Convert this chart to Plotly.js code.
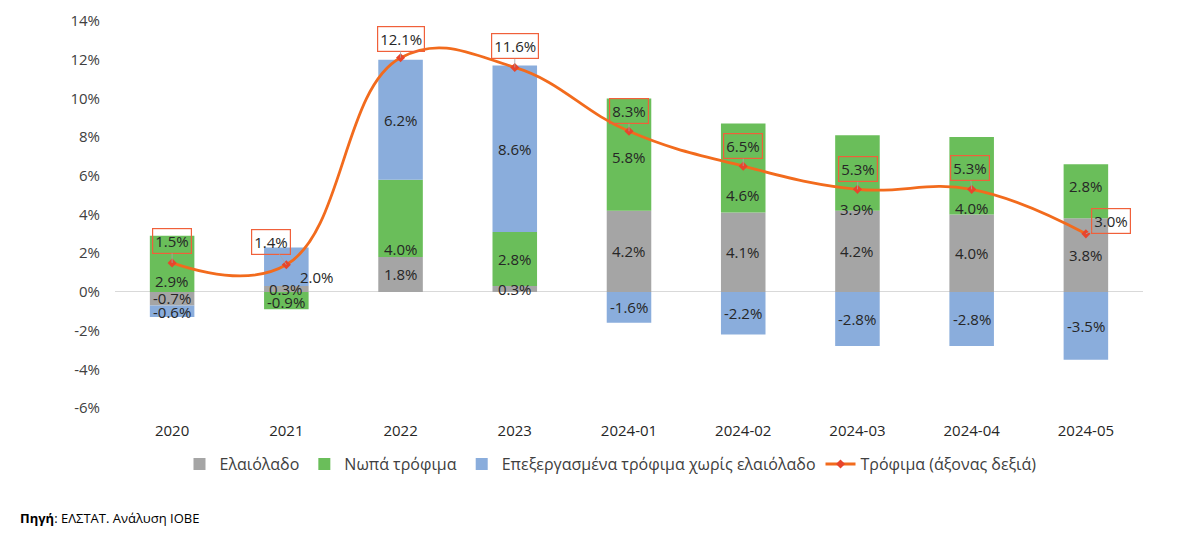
<!DOCTYPE html>
<html>
<head>
<meta charset="utf-8">
<script src="https://cdn.plot.ly/plotly-3.0.1.min.js"></script>
<style>
  html, body { margin: 0; padding: 0; background: #ffffff; }
  #chart { width: 1200px; height: 537px; }
</style>
</head>
<body>
<div id="chart"></div>
<script>
// ---- data ----
const categories = ["2020", "2021", "2022", "2023", "2024-01", "2024-02", "2024-03", "2024-04", "2024-05"];
const oliveOil   = [-0.7, 0.3, 1.8, 0.3, 4.2, 4.1, 4.2, 4.0, 3.8];   // Ελαιόλαδο
const freshFood  = [2.9, -0.9, 4.0, 2.8, 5.8, 4.6, 3.9, 4.0, 2.8];   // Νωπά τρόφιμα
const processed  = [-0.6, 2.0, 6.2, 8.6, -1.6, -2.2, -2.8, -2.8, -3.5]; // Επεξεργασμένα τρόφιμα χωρίς ελαιόλαδο
const foodTotal  = [1.5, 1.4, 12.1, 11.6, 8.3, 6.5, 5.3, 5.3, 3.0];  // Τρόφιμα (άξονας δεξιά)
const yTicks     = [-6, -4, -2, 0, 2, 4, 6, 8, 10, 12, 14];

// ---- styling ----
const FONT = "'Open Sans', 'Noto Sans', sans-serif";
const TEXT_DARK = "#262626";

const barSeries = [
  { name: "Ελαιόλαδο", values: oliveOil, color: "#A5A5A5" },
  { name: "Νωπά τρόφιμα", values: freshFood, color: "#6ABE5A" },
  { name: "Επεξεργασμένα τρόφιμα χωρίς ελαιόλαδο", values: processed, color: "#8AADDC" }
];

const traces = barSeries.map(s => ({
  type: "bar",
  name: s.name,
  x: categories,
  y: s.values,
  marker: { color: s.color },
  hoverinfo: "skip"
}));

traces.push({
  type: "scatter",
  mode: "lines+markers",
  name: "Τρόφιμα (άξονας δεξιά)",
  x: categories,
  y: foodTotal,
  line: { color: "#F26B1D", width: 2.8, shape: "spline", smoothing: 1.2 },
  marker: { symbol: "diamond", size: 7, color: "#E8452C" },
  cliponaxis: false,
  hoverinfo: "skip"
});

// pixel nudges of segment labels (label placement only, as in the reference)
const segLabelShift = [
  [[0,1],[0,0],[0,0],[0,0],[0,0],[0,0],[0,0],[0,0],[0,0]],
  [[0,-17],[0,-1],[0,-31],[0,0],[0,-2],[0,-27],[0,-36],[0,-32],[0,5]],
  [[0,-1],[31,-10],[0,0],[0,0],[0,0],[0,0],[0,0],[0,0],[0,0]]
];

const annotations = [];
// segment labels placed at the middle of each stacked segment
const posBase = categories.map(() => 0);
const negBase = categories.map(() => 0);
barSeries.forEach((s, k) => {
  s.values.forEach((v, i) => {
    let mid;
    if (v >= 0) { mid = posBase[i] + v / 2; posBase[i] += v; }
    else { mid = negBase[i] + v / 2; negBase[i] += v; }
    annotations.push({
      x: i, y: mid, xref: "x", yref: "y",
      text: v.toFixed(1) + "%", showarrow: false,
      xshift: segLabelShift[k][i][0], yshift: segLabelShift[k][i][1],
      font: { family: FONT, size: 15, color: TEXT_DARK }
    });
  });
});

// boxed total labels
const labelOffsets = [[0, -22], [-15, -23], [0, -19], [0, -21], [0, -20], [0, -20], [1, -20], [-2, -21], [25, -13]];
foodTotal.forEach((v, i) => {
  annotations.push({
    x: i, y: v, xref: "x", yref: "y",
    text: v.toFixed(1) + "%",
    showarrow: true, arrowhead: 0, arrowwidth: 0.8, arrowcolor: "#A6A6A6",
    ax: labelOffsets[i][0], ay: labelOffsets[i][1],
    bordercolor: "#F0603A", borderwidth: 1.2, borderpad: 2,
    font: { family: FONT, size: 15, color: TEXT_DARK }
  });
});

annotations.push({
  xref: "paper", yref: "paper", x: -0.094, y: -0.284,
  xanchor: "left", yanchor: "middle", showarrow: false,
  text: "<b>Πηγή</b>: ΕΛΣΤΑΤ. Ανάλυση ΙΟΒΕ",
  font: { family: FONT, size: 13, color: "#000000" }
});

const layout = {
  width: 1200, height: 537,
  margin: { l: 115, r: 57, t: 21, b: 129 },
  paper_bgcolor: "#ffffff", plot_bgcolor: "#ffffff",
  barmode: "relative",
  bargap: 0.61,
  font: { family: FONT, size: 15, color: TEXT_DARK },
  showlegend: true,
  legend: {
    orientation: "h", x: 0.482, xanchor: "center", y: -0.145, yanchor: "middle",
    font: { family: FONT, size: 16, color: "#404040" },
    itemwidth: 30, tracegroupgap: 0
  },
  xaxis: {
    type: "category",
    range: [-0.5, categories.length - 0.5],
    autorange: false,
    showline: false, showgrid: false, zeroline: false,
    ticks: "", ticklabelstandoff: 12,
    tickfont: { family: FONT, size: 15, color: TEXT_DARK }
  },
  yaxis: {
    range: [-6, 14],
    autorange: false,
    tickvals: yTicks,
    ticktext: yTicks.map(v => v + "%"),
    showgrid: false, showline: false,
    zeroline: true, zerolinecolor: "#D9D9D9", zerolinewidth: 1,
    ticks: "", ticklabelstandoff: 14,
    tickfont: { family: FONT, size: 15, color: "#404040" }
  },
  annotations: annotations
};

Plotly.newPlot("chart", traces, layout, { displayModeBar: false, staticPlot: true });
</script>
</body>
</html>
